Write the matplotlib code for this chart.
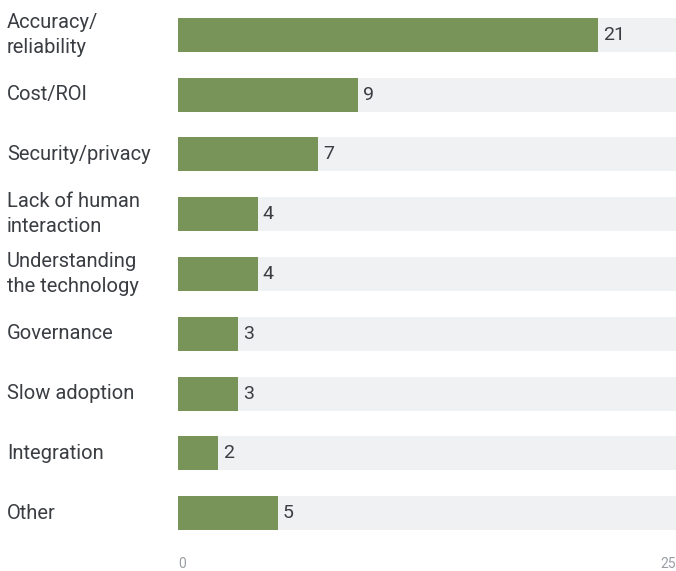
import matplotlib.pyplot as plt
import matplotlib.transforms as mtransforms

categories = ['Accuracy/\nreliability', 'Cost/ROI', 'Security/privacy',
              'Lack of human\ninteraction', 'Understanding\nthe technology',
              'Governance', 'Slow adoption', 'Integration', 'Other']
counts = [21, 9, 7, 4, 4, 3, 3, 2, 5]
axis_max = 25

plt.rcParams['font.family'] = ['Roboto', 'DejaVu Sans']

fig = plt.figure(figsize=(6.76, 5.71), dpi=100)
ax = fig.add_axes([178 / 676, 1 - 543 / 571, 498 / 676, 538 / 571])

y = list(range(len(categories)))
# light track behind each bar, then the value bar on top
ax.barh(y, [axis_max] * len(y), height=0.57, color='#f0f1f3', zorder=1)
ax.barh(y, counts, height=0.57, color='#789458', zorder=2)

for i, v in enumerate(counts):
    ax.annotate(str(v), xy=(v, i), xytext=(3.5, 0), textcoords='offset points',
                va='center', ha='left', fontsize=14, color='#3a3d42', zorder=3)

# category names sit at the left edge of the figure
lbl = mtransforms.blended_transform_factory(fig.transFigure, ax.transData)
for i, name in enumerate(categories):
    ax.text(7 / 676, i, name, transform=lbl, ha='left', va='center',
            fontsize=14.5, color='#3a3d42', linespacing=1.4, clip_on=False)

ax.set_xlim(0, 24.9)
ax.set_ylim(len(categories) - 0.5, -0.5)
ax.axis('off')

tick_tr = mtransforms.blended_transform_factory(ax.transData, fig.transFigure)
ax.text(0, 1 - 564 / 571, '0', transform=tick_tr, ha='left', va='center',
        fontsize=10, color='#9a9ea4')
ax.text(24.9, 1 - 564 / 571, str(axis_max), transform=tick_tr, ha='right',
        va='center', fontsize=10, color='#9a9ea4', clip_on=False)

fig.savefig('out.png', dpi=100)
